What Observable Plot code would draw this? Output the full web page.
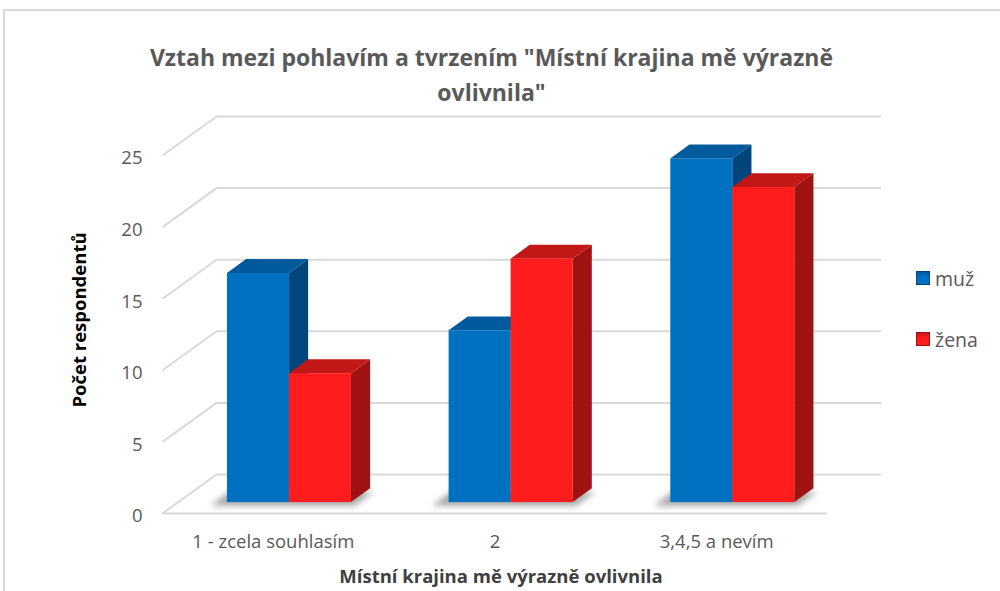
<!DOCTYPE html>
<html>
<head>
<meta charset="utf-8">
<script src="https://cdn.jsdelivr.net/npm/d3@7"></script>
<script src="https://cdn.jsdelivr.net/npm/@observablehq/plot@0.6"></script>
<style>
  html, body { margin: 0; padding: 0; background: #fff; }
  #wrap { position: relative; width: 1000px; height: 591px; overflow: hidden; font-family: "Open Sans", sans-serif; }
  #frame { position: absolute; left: 3px; top: 9px; width: 1010px; height: 600px; border-top: 2px solid #d9d9d9; border-left: 2px solid #d9d9d9; box-sizing: border-box; }
  #chart { position: absolute; left: 0; top: 0; }
  #title { position: absolute; left: 0; top: 40px; width: 983px; text-align: center; font-size: 23px; font-weight: 700; color: #595959; line-height: 35px; }
  #xtitle { position: absolute; left: 0; top: 563px; width: 1002px; text-align: center; font-size: 18.5px; font-weight: 700; color: #404040; }
  #ytitle { position: absolute; left: 78px; top: 320px; transform: translate(-50%, -50%) rotate(-90deg); white-space: nowrap; font-size: 18.5px; font-weight: 700; color: #000; }
  #legend { position: absolute; left: 916px; top: 265px; font-size: 19.5px; color: #595959; }
  .li { display: flex; align-items: center; height: 26px; margin-bottom: 35px; }
  .sw { width: 14px; height: 14px; margin-right: 5px; box-sizing: border-box; }
</style>
</head>
<body>
<div id="wrap">
  <div id="frame"></div>
  <div id="chart"></div>
  <div id="title">Vztah mezi pohlavím a tvrzením "Místní krajina mě výrazně<br>ovlivnila"</div>
  <div id="ytitle">Počet respondentů</div>
  <div id="xtitle">Místní krajina mě výrazně ovlivnila</div>
  <div id="legend"></div>
</div>
<script>
// ---- data ----
const categories = ["1 - zcela souhlasím", "2", "3,4,5 a nevím"];
const seriesNames = ["muž", "žena"];
const muz = [16, 12, 24];
const zena = [9, 17, 22];
const yTicks = [0, 5, 10, 15, 20, 25];

// ---- style / layout ----
const W = 1000, H = 591;
const mLeft = 162, mRight = 173, mTop = 155, mBottom = 78;
const faceColors = {
  "muž":  {front: "#0070c0", top: "#005a9c", side: "#00467d"},
  "žena": {front: "#ff1c1c", top: "#c21717", side: "#a01212"}
};

// oblique depth: full depth of the chart box in pixels
const depthPxX = 54, depthPxY = 39;
const pxPerX = (W - mLeft - mRight) / categories.length;
const pxPerY = (H - mTop - mBottom) / 25;
const DX = depthPxX / pxPerX;   // depth in x units
const DY = depthPxY / pxPerY;   // depth in y units
const t0 = 0.28, t1 = 0.635;    // bar front / back depth fractions
const BW = 62 / pxPerX;         // bar width in x units

const seriesValues = [muz, zena];
const bars = [];
categories.forEach((c, i) => {
  seriesNames.forEach((s, k) => {
    const xa = i + 0.5 - BW + k * BW + 1 / pxPerX;
    bars.push({cat: c, series: s, id: c + "|" + s, xa, xb: xa + BW, v: seriesValues[k][i]});
  });
});

const fronts = bars.map(b => ({...b,
  x1: b.xa + t0 * DX, x2: b.xb + t0 * DX, y1: t0 * DY, y2: b.v + t0 * DY}));
const tops = bars.flatMap(b => [t0, t1].map(t => ({id: b.id, series: b.series,
  y: b.v + t * DY, x1: b.xa + t * DX, x2: b.xb + t * DX})));
const sides = bars.flatMap(b => [t0, t1].map(t => ({id: b.id, series: b.series,
  x: b.xb + t * DX, y1: t * DY, y2: b.v + t * DY})));
const shadows = categories.flatMap((c, i) => [t0, t1].map(t => ({id: c,
  y: t * DY - 0.25, x1: i + 0.5 - BW + t * DX - 0.07, x2: i + 0.5 + BW + t * DX + 0.02})));

const grid = "#d9d9d9";

const chart = Plot.plot({
  width: W, height: H,
  marginLeft: mLeft, marginRight: mRight, marginTop: mTop, marginBottom: mBottom,
  x: {domain: [0, categories.length]},
  y: {domain: [0, 25]},
  style: {fontFamily: "'Open Sans', sans-serif", fontSize: "18.5px", color: "#595959", background: "transparent", overflow: "visible"},
  marks: [
    // back wall gridlines
    Plot.ruleY(yTicks, {y: d => d + DY, x1: DX, x2: categories.length + DX, stroke: grid, strokeWidth: 2}),
    // side wall diagonals
    Plot.link(yTicks, {x1: 0, y1: d => d, x2: DX, y2: d => d + DY, stroke: grid, strokeWidth: 2}),
    // floor front edge
    Plot.ruleY([0], {x1: 0, x2: categories.length, stroke: grid, strokeWidth: 2}),
    // shadows (first area mark)
    Plot.areaX(shadows, {y: "y", x1: "x1", x2: "x2", z: "id", fill: "#000", fillOpacity: 0.35}),
    // bar faces
    Plot.areaY(sides, {x: "x", y1: "y1", y2: "y2", z: "id", fill: d => faceColors[d.series].side}),
    Plot.areaX(tops, {y: "y", x1: "x1", x2: "x2", z: "id", fill: d => faceColors[d.series].top}),
    Plot.rect(fronts, {x1: "x1", x2: "x2", y1: "y1", y2: "y2", fill: d => faceColors[d.series].front}),
    // axes
    Plot.axisY(yTicks, {tickSize: 0, tickPadding: 20, dy: 3, label: null, fontSize: 18.5}),
    Plot.axisX(categories.map((c, i) => i + 0.5), {tickSize: 0, tickPadding: 21, label: null,
      tickFormat: d => categories[Math.floor(d)], fontSize: 18.5})
  ]
});
document.getElementById("chart").appendChild(chart);

// blur for shadows
const svg = d3.select(chart);
const defs = svg.insert("defs", ":first-child");
defs.append("filter").attr("id", "blurShadow").attr("x", "-50%").attr("y", "-50%").attr("width", "200%").attr("height", "200%")
  .append("feGaussianBlur").attr("stdDeviation", 3);
const areaGroups = svg.selectAll("g[aria-label='area']").nodes();
if (areaGroups.length) d3.select(areaGroups[0]).attr("filter", "url(#blurShadow)");

// legend
const legend = d3.select("#legend");
seriesNames.forEach(s => {
  const row = legend.append("div").attr("class", "li");
  row.append("div").attr("class", "sw")
    .style("background", `linear-gradient(180deg, ${faceColors[s].top} 0%, ${faceColors[s].front} 40%, ${faceColors[s].front} 100%)`)
    .style("border", `1px solid ${faceColors[s].side}`);
  row.append("span").text(s);
});
</script>
</body>
</html>
